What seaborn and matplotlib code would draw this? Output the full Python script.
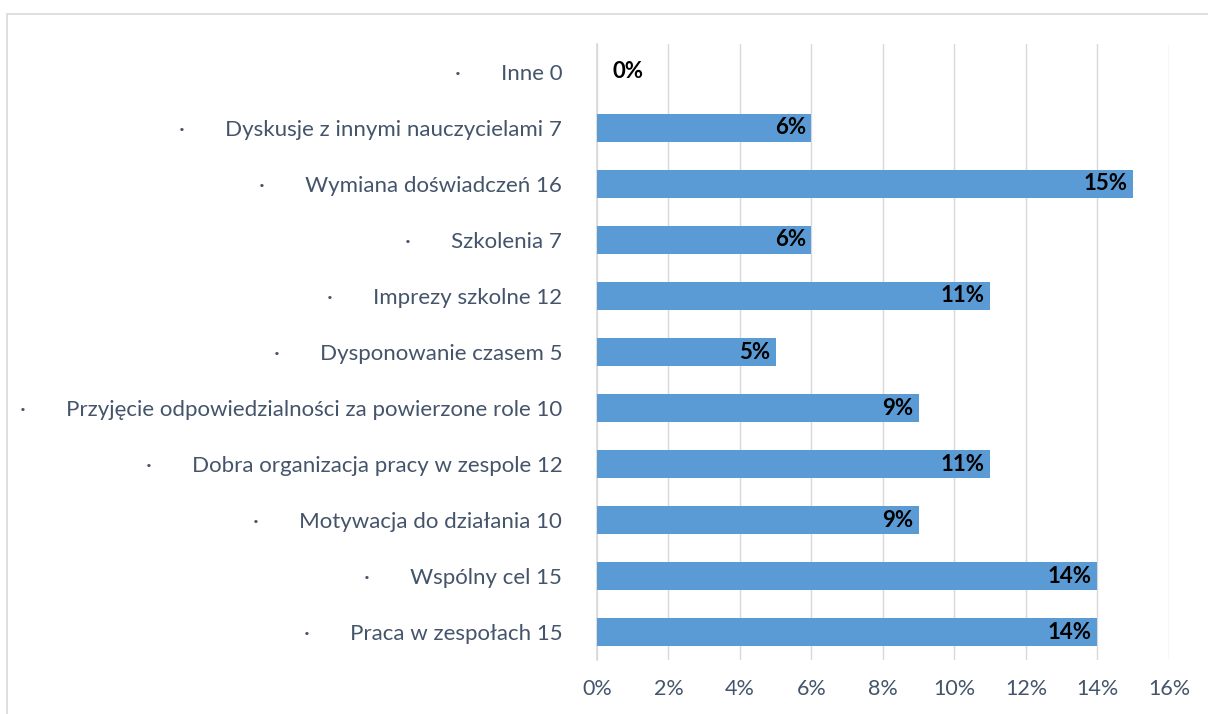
import matplotlib
matplotlib.use("Agg")
import matplotlib.pyplot as plt
import seaborn as sns
import pandas as pd
from matplotlib.patches import Rectangle
from matplotlib.ticker import FuncFormatter

categories = [
    "Inne 0",
    "Dyskusje z innymi nauczycielami 7",
    "Wymiana doświadczeń 16",
    "Szkolenia 7",
    "Imprezy szkolne 12",
    "Dysponowanie czasem 5",
    "Przyjęcie odpowiedzialności za powierzone role 10",
    "Dobra organizacja pracy w zespole 12",
    "Motywacja do działania 10",
    "Wspólny cel 15",
    "Praca w zespołach 15",
]
shares = [0, 6, 15, 6, 11, 5, 9, 11, 9, 14, 14]  # percent
ticks = [0, 2, 4, 6, 8, 10, 12, 14, 16]

sns.set_theme(style="white")
plt.rcParams["font.family"] = ["Lato", "DejaVu Sans"]

df = pd.DataFrame({"cat": categories, "share": shares})

fig = plt.figure(figsize=(12.08, 7.14), dpi=100)
ax = fig.add_axes([0.4942, 0.0756, 0.4735, 0.8628])

# light frame around the chart
fig.patches.append(Rectangle((7 / 1208, -0.1), 1.1, 1 - 14 / 714 + 0.1,
                             transform=fig.transFigure, fill=False,
                             edgecolor="#D9D9D9", linewidth=1.2))

sns.barplot(data=df, x="share", y="cat", orient="h", color="#5B9BD5",
            saturation=1, width=0.5, linewidth=0, ax=ax, zorder=3)

ax.set_xlim(0, 16)
ax.set_xticks(ticks)
ax.xaxis.set_major_formatter(FuncFormatter(lambda v, p: f"{v:.0f}%"))
ax.grid(axis="x", color="#D9D9D9", linewidth=1, zorder=0)
ax.grid(axis="y", visible=False)
for s in ["top", "right", "bottom"]:
    ax.spines[s].set_visible(False)
ax.spines["left"].set_color("#D9D9D9")
ax.set_xlabel("")
ax.set_ylabel("")
ax.set_yticks(range(len(categories)))
ax.set_yticklabels(["·       " + c for c in categories])
ax.tick_params(axis="y", length=0, pad=25, labelsize=16, labelcolor="#44546A")
ax.tick_params(axis="x", length=0, pad=14, labelsize=15.5, labelcolor="#44546A")

for bar, v in zip(ax.patches, shares):
    yc = bar.get_y() + bar.get_height() / 2
    if v > 0:
        ax.annotate(f"{v}%", (bar.get_width(), yc), xytext=(-4, 0),
                    textcoords="offset points", ha="right", va="center",
                    fontsize=16, fontweight="bold", color="black", zorder=4)
    else:
        ax.annotate(f"{v}%", (0, yc), xytext=(11, 0),
                    textcoords="offset points", ha="left", va="center",
                    fontsize=16, fontweight="bold", color="black", zorder=4)

fig.savefig("out.png", dpi=100)
